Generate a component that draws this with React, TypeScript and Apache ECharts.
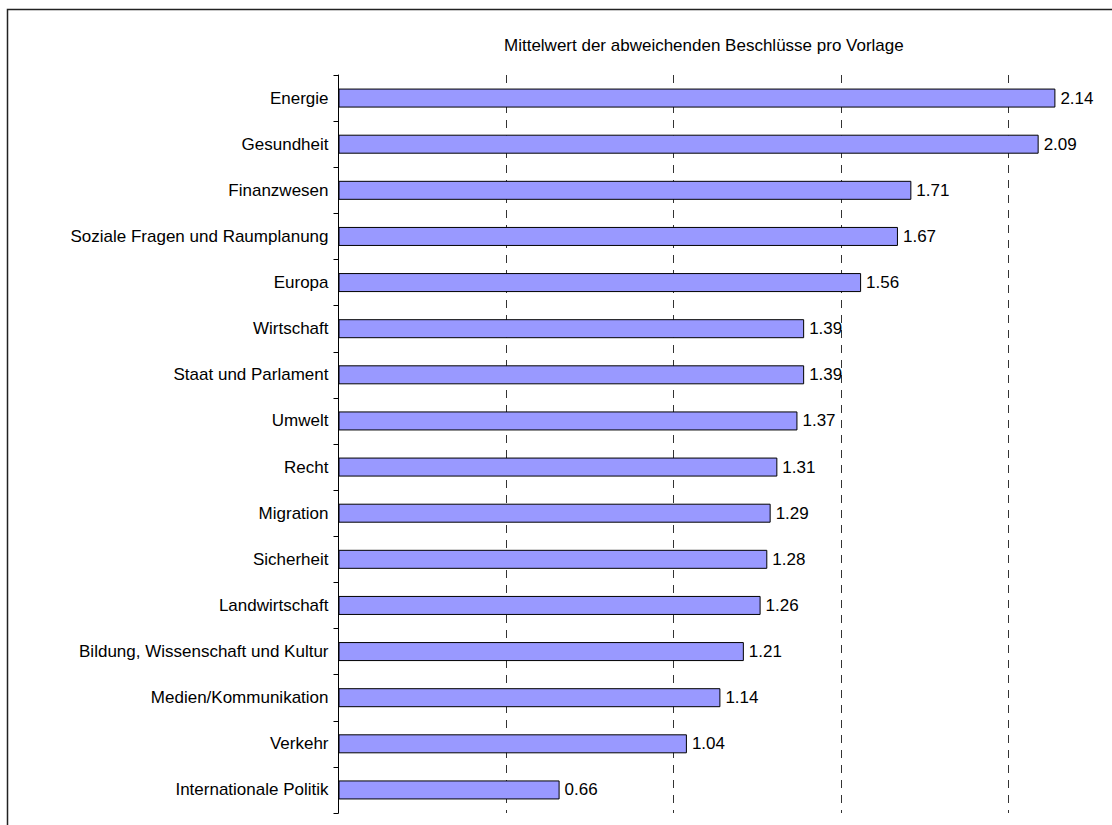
import React, { useEffect, useRef } from "react";
import * as echarts from "echarts";

const categories = [
  "Energie",
  "Gesundheit",
  "Finanzwesen",
  "Soziale Fragen und Raumplanung",
  "Europa",
  "Wirtschaft",
  "Staat und Parlament",
  "Umwelt",
  "Recht",
  "Migration",
  "Sicherheit",
  "Landwirtschaft",
  "Bildung, Wissenschaft und Kultur",
  "Medien/Kommunikation",
  "Verkehr",
  "Internationale Politik",
];
const values = [2.14, 2.09, 1.71, 1.67, 1.56, 1.39, 1.39, 1.37, 1.31, 1.29, 1.28, 1.26, 1.21, 1.14, 1.04, 0.66];
const titleText = "Mittelwert der abweichenden Beschlüsse pro Vorlage";

const FONT = "'Liberation Sans', Arial, sans-serif";

export default function App() {
  const ref = useRef<HTMLDivElement>(null);
  useEffect(() => {
    if (!ref.current) return;
    const chart = echarts.init(ref.current, undefined, { renderer: "svg" });
    chart.setOption({
      animation: false,
      backgroundColor: "#ffffff",
      title: {
        text: titleText,
        left: 504,
        top: 37,
        padding: 0,
        textStyle: { fontFamily: FONT, fontSize: 17, fontWeight: "normal", color: "#000" },
      },
      grid: { left: 338.5, right: 3, top: 75, bottom: 12, containLabel: false },
      xAxis: {
        type: "value",
        min: 0,
        max: 2.3,
        interval: 0.5,
        axisLine: { show: false },
        axisTick: { show: false },
        axisLabel: { show: false },
        splitLine: {
          show: true,
          showMinLine: false,
          showMaxLine: false,
          lineStyle: { color: "#333", width: 1, type: [8, 7] },
        },
      },
      yAxis: {
        type: "category",
        data: categories,
        inverse: true,
        axisLine: { show: true, lineStyle: { color: "#000", width: 1 } },
        axisTick: { show: true, length: 5, lineStyle: { color: "#000" } },
        axisLabel: { margin: 10, fontFamily: FONT, fontSize: 17, color: "#000" },
        splitLine: { show: false },
      },
      series: [
        {
          type: "bar",
          data: values,
          barWidth: 19,
          itemStyle: { color: "#9999FF", borderColor: "#000", borderWidth: 1 },
          label: {
            show: true,
            position: "right",
            distance: 5,
            fontFamily: FONT,
            fontSize: 17,
            color: "#000",
            formatter: (p: any) => p.value.toFixed(2),
          },
        },
      ],
      graphic: [
        {
          type: "polyline",
          shape: { points: [[7.5, 825], [7.5, 9.5], [1112, 9.5]] },
          style: { stroke: "#222", lineWidth: 1.5, fill: null },
          silent: true,
        },
      ],
    });
    return () => chart.dispose();
  }, []);
  return (
    <div
      ref={ref}
      style={{ position: "absolute", left: 0, top: 0, width: 1112, height: 825 }}
    />
  );
}
